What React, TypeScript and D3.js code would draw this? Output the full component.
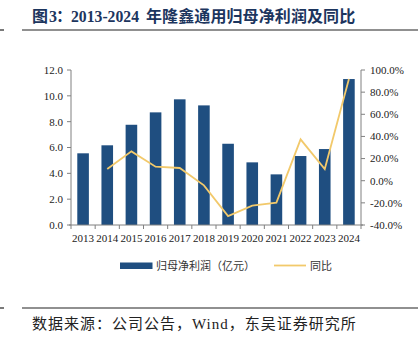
import React from 'react';
import * as d3 from 'd3';

const years = ['2013', '2014', '2015', '2016', '2017', '2018', '2019', '2020', '2021', '2022', '2023', '2024'];
const netProfit = [5.55, 6.17, 7.76, 8.72, 9.73, 9.26, 6.29, 4.85, 3.92, 5.34, 5.88, 11.3];
// 2013 has no YoY value
const yoy = [null, 10.6, 26.5, 12.7, 11.5, -4.2, -31.9, -22.5, -19.8, 37.4, 10.6, 91.9];
const leftTicks = [0, 2, 4, 6, 8, 10, 12];
const rightTicks = [-40, -20, 0, 20, 40, 60, 80, 100];

const W = 418;
const H = 350;
const margin = { top: 70, right: 57, bottom: 125, left: 71 };
const innerW = W - margin.left - margin.right;
const innerH = H - margin.top - margin.bottom;

const serif = '"Liberation Serif", "Times New Roman", serif';
const cjk = '"Noto Sans CJK SC", sans-serif';
const barColor = '#1F4E80';
const lineColor = '#F2C96B';
const axisColor = '#808080';

export default function App() {
  const x = d3.scaleBand<string>().domain(years).range([0, innerW]).paddingInner(0.52).paddingOuter(0.26);
  const yL = d3.scaleLinear().domain([0, 12]).range([innerH, 0]);
  const yR = d3.scaleLinear().domain([-40, 100]).range([innerH, 0]);

  const line = d3.line<number | null>()
    .defined(d => d !== null)
    .x((d, i) => (x(years[i]) ?? 0) + x.bandwidth() / 2)
    .y(d => yR(d as number));

  const step = innerW / years.length;

  return (
    <svg width={W} height={H} style={{ position: 'absolute', left: 0, top: 0, background: '#fff' }}>
      <g fontWeight="bold" fill="#1C355E">
        <text x={32} y={22} fontSize={16} fontFamily={cjk}>图</text>
        <text x={49} y={22} fontSize={16} fontFamily={serif}>3</text>
        <text x={56} y={22} fontSize={16} fontFamily={cjk}>：</text>
        <text x={71} y={22} fontSize={15.7} fontFamily={serif}>2013-2024</text>
        <text x={146} y={22} fontSize={16} fontFamily={cjk} letterSpacing={0.1}>年隆鑫通用归母净利润及同比</text>
      </g>
      <line x1={0} x2={4} y1={30} y2={30} stroke="#222" strokeWidth={1.2} />
      <line x1={22} x2={418} y1={30} y2={30} stroke="#222" strokeWidth={1.2} />

      <g transform={`translate(${margin.left},${margin.top})`}>
        {netProfit.map((v, i) => (
          <rect key={years[i]} x={x(years[i])} y={yL(v)} width={x.bandwidth()} height={innerH - yL(v)} fill={barColor} />
        ))}
        <path d={line(yoy) ?? ''} fill="none" stroke={lineColor} strokeWidth={1.8} />

        {/* left axis */}
        <line x1={0} x2={0} y1={0} y2={innerH} stroke={axisColor} />
        {leftTicks.map(t => (
          <g key={t} transform={`translate(0,${yL(t)})`}>
            <line x1={-4} x2={0} stroke={axisColor} />
            <text x={-8} dy="0.35em" textAnchor="end" fontSize={11} fontFamily={serif} fill="#222">{t.toFixed(1)}</text>
          </g>
        ))}

        {/* right axis */}
        <line x1={innerW} x2={innerW} y1={0} y2={innerH} stroke={axisColor} />
        {rightTicks.map(t => (
          <g key={t} transform={`translate(${innerW},${yR(t)})`}>
            <line x1={0} x2={4} stroke={axisColor} />
            <text x={9} dy="0.35em" fontSize={11} fontFamily={serif} fill="#222">{t.toFixed(1)}%</text>
          </g>
        ))}

        {/* x axis */}
        <line x1={-2} x2={innerW + 2} y1={innerH} y2={innerH} stroke={axisColor} />
        {d3.range(years.length + 1).map(i => (
          <line key={i} x1={i * step} x2={i * step} y1={innerH} y2={innerH + 4} stroke={axisColor} />
        ))}
        {years.map(yr => (
          <text key={yr} x={(x(yr) ?? 0) + x.bandwidth() / 2} y={innerH + 17} textAnchor="middle" fontSize={11} fontFamily={serif} fill="#222">{yr}</text>
        ))}
      </g>

      {/* legend */}
      <rect x={120} y={262.5} width={32.5} height={6.5} fill={barColor} />
      <text x={156} y={269.5} fontSize={11} fontFamily={cjk} fill="#333">归母净利润（亿元）</text>
      <line x1={274} x2={306} y1={265.5} y2={265.5} stroke={lineColor} strokeWidth={1.8} />
      <text x={310} y={269.5} fontSize={11} fontFamily={cjk} fill="#333">同比</text>

      <line x1={0} x2={4} y1={308} y2={308} stroke="#222" strokeWidth={1.2} />
      <line x1={22} x2={418} y1={308} y2={308} stroke="#222" strokeWidth={1.2} />
      <text x={32} y={329} fontSize={15} letterSpacing={1} fontFamily={`${serif}, ${cjk}`} fill="#222">
        <tspan fontFamily={cjk}>数据来源：公司公告，</tspan>
        <tspan>Wind</tspan>
        <tspan fontFamily={cjk}>，东吴证券研究所</tspan>
      </text>
    </svg>
  );
}
